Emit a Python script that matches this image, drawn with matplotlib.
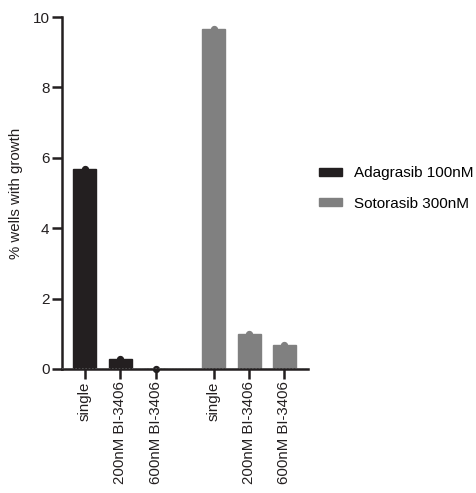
import matplotlib
matplotlib.use("Agg")
import matplotlib.pyplot as plt
from matplotlib.patches import Patch

plt.rcParams['font.family'] = ['Liberation Sans', 'DejaVu Sans']

# Data
groups = ["Adagrasib 100nM", "Sotorasib 300nM"]
conditions = ["single", "200nM BI-3406", "600nM BI-3406"]
adagrasib = [5.67, 0.28, 0.0]
sotorasib = [9.67, 0.99, 0.67]
colors = ["#231f20", "#808080"]
yticks = [0, 2, 4, 6, 8, 10]

fig = plt.figure(figsize=(4.77, 4.93), dpi=100)
ax = fig.add_axes([62/477, 124/493, (308-62)/477, (369-17)/493])

pos_a = [0, 1, 2]
pos_s = [3.65, 4.65, 5.65]
width = 0.65

for pos, vals, c in [(pos_a, adagrasib, colors[0]), (pos_s, sotorasib, colors[1])]:
    ax.bar(pos, vals, width=width, color=c, edgecolor=c, zorder=2)
    ax.scatter(pos, vals, s=18, color=c, zorder=3, clip_on=False)

ax.axhline(0, color="#555555", lw=1.2, ls=(0, (1, 1)), zorder=4)

ax.set_xlim(-0.65, 6.32)
ax.set_ylim(0, 10)
ax.set_yticks(yticks)
ax.set_yticklabels([str(t) for t in yticks], fontsize=11, color="#231f20")
ax.set_xticks(pos_a + pos_s)
ax.set_xticklabels(conditions + conditions, rotation=90, fontsize=10.8, color="#231f20")
ax.set_ylabel("% wells with growth", fontsize=10.8, color="#231f20", labelpad=7)

for side in ["top", "right"]:
    ax.spines[side].set_visible(False)
for side in ["left", "bottom"]:
    ax.spines[side].set_linewidth(1.8)
    ax.spines[side].set_color("#231f20")
ax.tick_params(axis="both", width=1.8, length=7, color="#231f20", pad=2)

handles = [Patch(facecolor=c, edgecolor=c) for c in colors]
fig.legend(handles, groups, loc="center left", bbox_to_anchor=(313/477, 1 - 188.5/493),
           borderaxespad=0, borderpad=0.4,
           frameon=False, fontsize=11, handlelength=1.5, handleheight=0.5,
           labelspacing=1.05, handletextpad=0.8)

fig.savefig("out.png", dpi=100)
